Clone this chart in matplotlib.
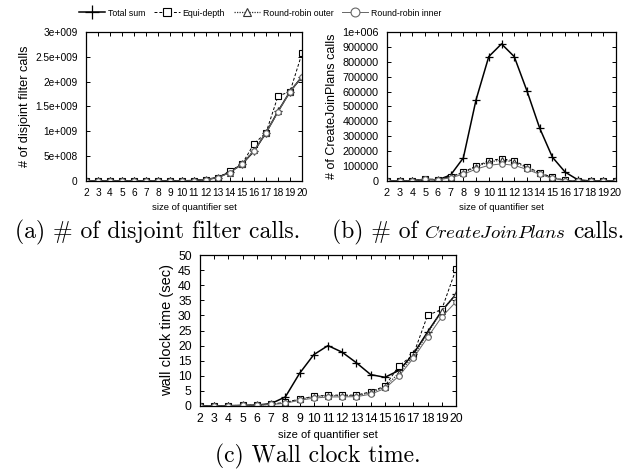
import numpy as np
import matplotlib
matplotlib.use("Agg")
import matplotlib.pyplot as plt
from matplotlib.lines import Line2D
from matplotlib.ticker import FuncFormatter

plt.rcParams['font.family'] = ['Liberation Sans', 'DejaVu Sans']
plt.rcParams['mathtext.fontset'] = 'cm'

X = list(range(2, 21))
SERIES = ["Total sum", "Equi-depth", "Round-robin outer", "Round-robin inner"]

# (a) disjoint filter calls
A_TOTAL = [0, 0, 0, 0, 0, 0, 0, 0, 0.002e9, 0.01e9, 0.03e9, 0.07e9, 0.18e9, 0.34e9, 0.60e9, 0.97e9, 1.40e9, 1.80e9, 2.10e9]
A_EQUI = [0, 0, 0, 0, 0, 0, 0, 0, 0.002e9, 0.01e9, 0.03e9, 0.07e9, 0.20e9, 0.34e9, 0.75e9, 0.97e9, 1.71e9, 1.80e9, 2.57e9]
A_OUT = [0, 0, 0, 0, 0, 0, 0, 0, 0.002e9, 0.01e9, 0.03e9, 0.07e9, 0.17e9, 0.34e9, 0.62e9, 0.97e9, 1.40e9, 1.80e9, 2.10e9]
A_IN = [0, 0, 0, 0, 0, 0, 0, 0, 0.002e9, 0.01e9, 0.03e9, 0.07e9, 0.17e9, 0.34e9, 0.61e9, 0.97e9, 1.39e9, 1.80e9, 2.10e9]

# (b) CreateJoinPlans calls
B_TOTAL = [0, 0, 2000, 10000, 8000, 40000, 155000, 545000, 835000, 920000, 835000, 605000, 355000, 160000, 60000, 8000, 0, 0, 0]
B_EQUI = [0, 0, 2000, 15000, 8000, 30000, 60000, 100000, 135000, 150000, 135000, 95000, 55000, 25000, 5000, 0, 0, 0, 0]
B_OUT = [0, 0, 2000, 14000, 8000, 28000, 55000, 95000, 128000, 140000, 128000, 90000, 52000, 22000, 4000, 0, 0, 0, 0]
B_IN = [0, 0, 2000, 12000, 7000, 22000, 45000, 80000, 105000, 115000, 105000, 78000, 45000, 18000, 3000, 0, 0, 0, 0]

# (c) wall clock time
C_TOTAL = [0, 0, 0.1, 0.2, 0.3, 0.8, 3.0, 10.8, 17.0, 20.0, 17.8, 14.3, 10.4, 9.5, 11.8, 17.2, 24.5, 31.5, 37.0]
C_EQUI = [0, 0, 0.1, 0.2, 0.3, 0.6, 1.2, 2.3, 3.2, 3.6, 3.6, 3.6, 4.7, 6.6, 13.3, 17.0, 30.0, 32.0, 45.3]
C_OUT = [0, 0, 0.1, 0.2, 0.3, 0.6, 1.1, 2.2, 3.1, 3.4, 3.4, 3.4, 4.5, 6.3, 11.0, 16.5, 24.0, 31.5, 37.0]
C_IN = [0, 0, 0.1, 0.2, 0.3, 0.5, 0.9, 1.9, 2.6, 3.0, 3.0, 3.1, 3.9, 5.8, 10.0, 15.8, 22.7, 29.5, 34.5]

STYLES = [
    dict(color='black', ls='-', lw=1.1, marker='+', ms=6, mew=0.9),
    dict(color='black', ls=(0, (3, 2)), lw=0.7, marker='s', ms=4, mfc='white', mew=0.8),
    dict(color='#333333', ls=(0, (1, 1)), lw=0.9, marker='^', ms=4, mfc='white', mew=0.8),
    dict(color='#666666', ls='-', lw=0.7, marker='o', ms=4, mfc='white', mew=0.8),
]

fig = plt.figure(figsize=(6.34, 4.73), dpi=100)
W, H = 634, 473


def add_ax(l, r, t, b):
    return fig.add_axes([l / W, 1 - b / H, (r - l) / W, (b - t) / H])


def style_ax(ax, ylabel, ymax, ystep, fmt, tsize, xlsize, ylsize):
    ax.set_xlim(2, 20)
    ax.set_ylim(0, ymax)
    ax.set_xticks(X)
    ax.set_yticks(np.arange(0, ymax + ystep / 2, ystep))
    ax.yaxis.set_major_formatter(FuncFormatter(fmt))
    ax.tick_params(direction='in', top=True, right=True, labelsize=tsize, length=3, width=0.7)
    ax.tick_params(axis='y', pad=6)
    ax.tick_params(axis='x', pad=5)
    ax.set_xlabel("size of quantifier set", fontsize=xlsize, labelpad=4)
    ax.set_ylabel(ylabel, fontsize=ylsize, labelpad=3)
    for s in ax.spines.values():
        s.set_linewidth(0.9)


def sci(v, pos):
    if v == 0:
        return "0"
    e = int(np.floor(np.log10(abs(v)) + 1e-9))
    return "%se+%03d" % ("%g" % (v / 10 ** e), e)


axa = add_ax(86, 302, 32, 181)
for ys, st in zip([A_TOTAL, A_EQUI, A_OUT, A_IN], STYLES):
    axa.plot(X, ys, **st)
style_ax(axa, "# of disjoint filter calls", 3e9, 0.5e9, sci, 7.3, 6.8, 9.2)

axb = add_ax(387, 616, 32, 181)
for ys, st in zip([B_TOTAL, B_EQUI, B_OUT, B_IN], STYLES):
    axb.plot(X, ys, **st)
style_ax(axb, "# of CreateJoinPlans calls", 1e6, 1e5,
         lambda v, p: "1e+006" if v >= 1e6 else "%d" % v, 7.8, 6.8, 9)

axc = add_ax(200, 456, 255, 406)
for ys, st in zip([C_TOTAL, C_EQUI, C_OUT, C_IN], STYLES):
    axc.plot(X, ys, **st)
style_ax(axc, "wall clock time (sec)", 50, 5, lambda v, p: "%d" % v, 8.8, 8, 10.5)

handles = [Line2D([], [], **st) for st in STYLES]
fig.legend(handles, SERIES, loc='center', bbox_to_anchor=(260 / W, 1 - 13 / H), ncol=4,
           frameon=False, fontsize=6.3, handlelength=3.0, handletextpad=0.3, columnspacing=1.0,
           borderpad=0, markerscale=1.6)

# captions: pieces laid out left to right on one baseline
renderer = fig.canvas.get_renderer()


def caption(pieces, cx, base, gap=7):
    texts = []
    for s, size in pieces:
        t = fig.text(0, 1 - base / H, s, fontsize=size, family=['cmr10'], ha='left', va='baseline')
        texts.append(t)
    widths = [t.get_window_extent(renderer).width for t in texts]
    total = sum(widths) + gap * (len(texts) - 1)
    x = cx - total / 2
    for t, w in zip(texts, widths):
        t.set_x(x / W)
        x += w + gap


caption([("(a) # of disjoint filter calls.", 17)], 158, 238)
caption([("(b) # of", 17), ("$CreateJoinPlans$", 13.5), ("calls.", 17)], 478, 238)
caption([("(c) Wall clock time.", 17)], 318, 462)

fig.savefig("out.png", dpi=100)
